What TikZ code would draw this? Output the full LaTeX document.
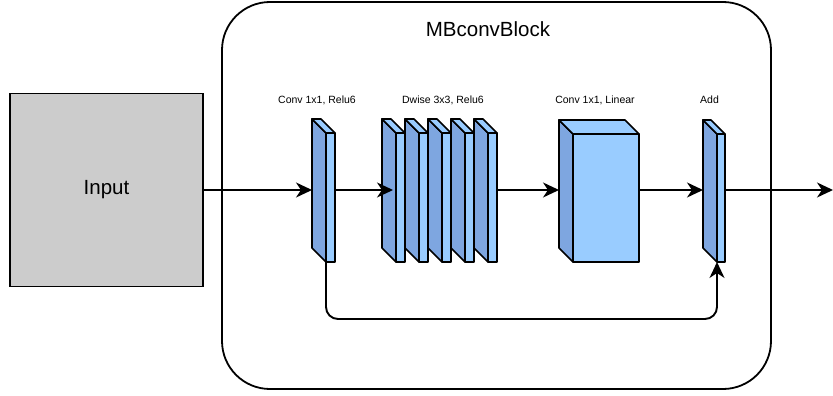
\documentclass[tikz,border=0pt]{standalone}
\usepackage{fontspec}
\setmainfont{Liberation Sans}
\usetikzlibrary{arrows.meta,calc}

\definecolor{front}{HTML}{99CCFF}
\definecolor{side}{HTML}{7EA6E0}
\definecolor{inputgray}{HTML}{CCCCCC}

\tikzset{
  face/.style={draw=black, line width=1.7pt, line join=round},
  frontface/.style={face, fill=front},
  sideface/.style={face, fill=side},
  link/.style={line width=1.9pt, -{Stealth[length=16pt,width=15pt,inset=5pt]}},
  lbl/.style={font=\fontsize{10.5}{12}\selectfont, inner sep=0pt},
  big/.style={font=\fontsize{20.5}{24}\selectfont},
}

% layer block drawn as a cuboid: name, back-left x, top y, front width, bottom y (depth 14)
\newcommand{\cuboid}[5]{%
  \draw[sideface] (#2,#3) -- ({#2+14},{#3+14}) -- ({#2+14},#5) -- (#2,{#5-14}) -- cycle;
  \draw[frontface] (#2,#3) -- ({#2+#4},#3) -- ({#2+#4+14},{#3+14}) -- ({#2+14},{#3+14}) -- cycle;
  \draw[frontface] ({#2+14},{#3+14}) rectangle ({#2+14+#4},#5);
  \node[inner sep=0pt, outer sep=0pt, minimum width={#4+14}, minimum height={#5-#3},
        anchor=west] (#1) at (#2,190) {};
  \coordinate (#1-base) at ({#2+14},#5);
}

\begin{document}
\begin{tikzpicture}[x=1pt, y=-1pt]
  \useasboundingbox (0,0) rectangle (833,396);

  % enclosing block
  \node[draw, line width=1.8pt, rounded corners=48pt, minimum width=549pt, minimum height=387pt,
        inner sep=0pt, outer sep=0pt, anchor=north west] (block) at (222,2) {};
  \node[big] (title) at (488,29) {MBconvBlock};

  % input
  \node[draw, line width=1.7pt, fill=inputgray, minimum width=193pt, minimum height=193pt,
        inner sep=0pt, outer sep=0pt, big] (input) at (106.5,190) {Input};

  % layers
  \cuboid{conv1}{312}{119}{9}{262}
  \cuboid{dw1}{382}{119}{9}{262}
  \cuboid{dw2}{405}{119}{9}{262}
  \cuboid{dw3}{428}{119}{9}{262}
  \cuboid{dw4}{451}{119}{9}{262}
  \cuboid{dw5}{474}{119}{9}{262}
  \cuboid{lin}{559}{120}{66}{262}
  \cuboid{add}{703}{120}{8}{262}

  % labels
  \node[lbl] (l1) at (317,100) {Conv 1x1, Relu6};
  \node[lbl] (l2) at (443,100) {Dwise 3x3, Relu6};
  \node[lbl] (l3) at (595,100) {Conv 1x1, Linear};
  \node[lbl] (l4) at (709.5,100) {Add};

  % connectors
  \coordinate (dwin) at ($(dw1.west)+(11,0)$);
  \coordinate (out) at (833,190);
  \draw[link] (input.east) -- (conv1.west);
  \draw[link] (conv1.east) -- (dwin);
  \draw[link] (dw5.east) -- (lin.west);
  \draw[link] (lin.east) -- (add.west);
  \draw[link] (add.east) -- (out);
  \draw[link, rounded corners=12pt] (conv1-base) -- ++(0,57) -| (add-base);
\end{tikzpicture}
\end{document}
